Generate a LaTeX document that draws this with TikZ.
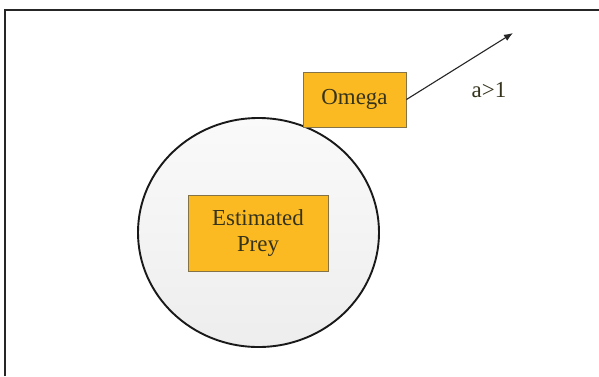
\documentclass[tikz,border=0pt]{standalone}
\usepackage{fontspec}
\setmainfont{Liberation Serif}
\usetikzlibrary{shapes.geometric,arrows.meta}
\definecolor{boxfill}{HTML}{FBBA22}
\definecolor{boxline}{HTML}{857348}
\definecolor{txt}{HTML}{35331C}
\tikzset{
  yellowbox/.style={draw=boxline, line width=0.9bp, fill=boxfill, text=txt,
    font=\fontsize{23}{27}\selectfont, align=center, inner sep=0pt},
  arrowline/.style={line width=1.1bp, draw=black!85, -{Latex[length=9bp,width=7bp]}}
}
\begin{document}
\begin{tikzpicture}[x=1bp,y=-1bp]
\useasboundingbox (0,0) rectangle (599,376);
\fill[white] (0,0) rectangle (599,376);
\coordinate (bl) at (5,376);
\coordinate (tl) at (5,10);
\coordinate (tr) at (599,10);
\draw[line width=1.3bp, black!85] (bl) -- (tl) -- (tr);
\node (circ) [ellipse, draw=black!90, line width=1.9bp, top color=white!98!black,
  bottom color=white!93!black, minimum width=241bp, minimum height=229bp, inner sep=0pt]
  at (258.5,232.5) {};
\node (prey) [yellowbox, minimum width=140bp, minimum height=76bp] at (258,233)
  {Estimated\\Prey};
\node (omega) [yellowbox, minimum width=103bp, minimum height=55bp] at (354.5,99.5)
  {Omega};
\coordinate (tip) at (513,33);
\draw[arrowline] (omega.east) -- (tip);
\node (alabel) [text=txt, font=\fontsize{23}{27}\selectfont, inner sep=0pt] at (489,90) {a>1};
\end{tikzpicture}
\end{document}
